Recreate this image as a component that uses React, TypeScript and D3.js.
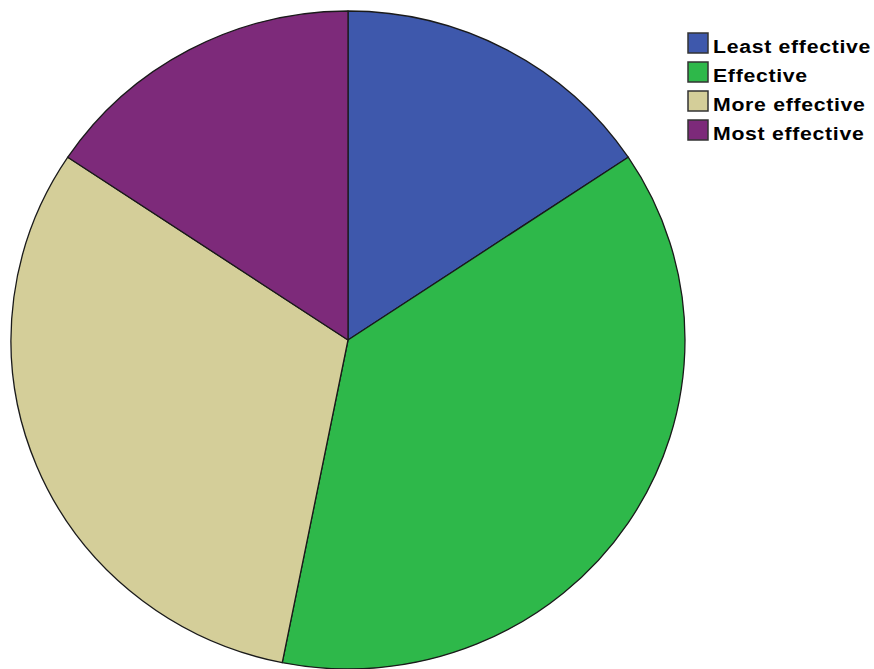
import React from "react";
import * as d3 from "d3";

const categories = ["Least effective", "Effective", "More effective", "Most effective"];
const counts = [10, 24, 20, 10];
const colors = ["#3E58AC", "#2EB84A", "#D4CE99", "#7D2A7A"];

export default function App() {
  const width = 874;
  const height = 669;
  const cx = 348;
  const cy = 340;
  const rx = 337;
  const ry = 329;

  const pie = d3.pie<number>().sort(null).value((d) => d);
  const arcs = pie(counts);
  const arc = d3.arc<d3.PieArcDatum<number>>().innerRadius(0).outerRadius(rx);

  const legendX = 688;
  const legendY = 33;
  const rowH = 29;

  return (
    <svg
      width={width}
      height={height}
      style={{ position: "absolute", left: 0, top: 0, background: "#fff" }}
    >
      <g transform={`translate(${cx},${cy}) scale(1,${ry / rx})`}>
        {arcs.map((a, i) => (
          <path
            key={i}
            d={arc(a) || ""}
            fill={colors[i]}
            stroke="#1a1a1a"
            strokeWidth={1.3}
            vectorEffect="non-scaling-stroke"
            strokeLinejoin="round"
          />
        ))}
      </g>
      <g>
        {categories.map((c, i) => (
          <g key={c} transform={`translate(${legendX},${legendY + i * rowH})`}>
            <rect
              x={0}
              y={0}
              width={20}
              height={20}
              fill={colors[i]}
              stroke="#333"
              strokeWidth={1.5}
            />
            <g transform="translate(25,20) scale(1.15,1)">
              <text
                x={0}
                y={0}
                fontFamily="'Liberation Sans', Arial, sans-serif"
                fontWeight="bold"
                fontSize={18.5}
                letterSpacing={0.6}
                fill="#000"
              >
                {c}
              </text>
            </g>
          </g>
        ))}
      </g>
    </svg>
  );
}
